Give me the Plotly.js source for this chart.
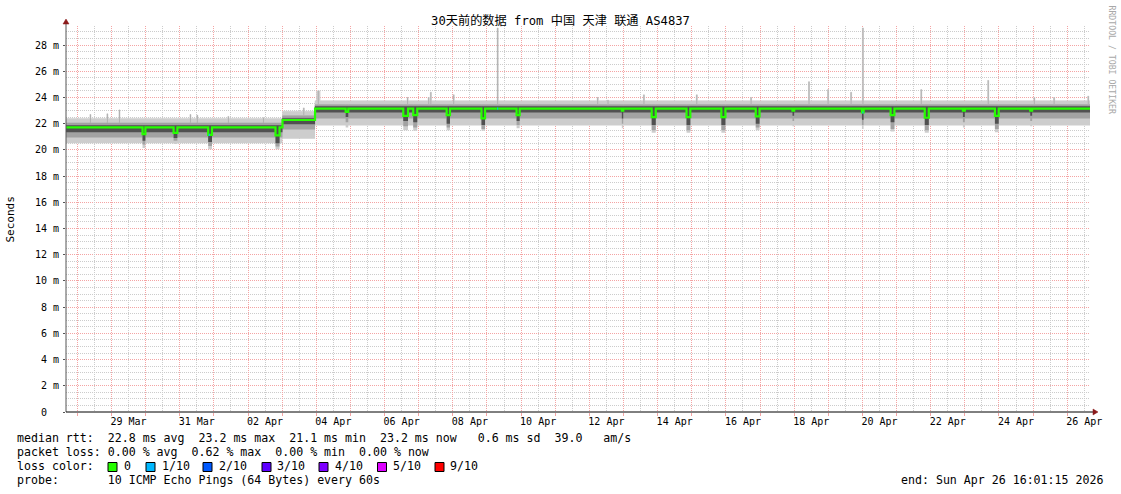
<!DOCTYPE html>
<html><head><meta charset="utf-8">
<script src="https://cdn.plot.ly/plotly-3.0.1.min.js"></script>
<style>html,body{margin:0;padding:0;background:#fff}</style>
</head><body><div id="chart" style="width:1121px;height:494px"></div>
<script>
// ---------- DATA ----------
const titleText = '30天前的数据 from 中国 天津 联通 AS4837';
const startTime = '03-27 16:01:15';
const endTime = '04-26 16:01:15';

// Level periods: RTT in ms (median + smoke percentiles)
const periodStart  = ['03-27 16:01:15', '04-03 00:15', '04-03 23:08'];
const periodMedian = [21.72, 22.28, 23.15];
const periodLo1    = [21.35, 21.95, 22.85];
const periodLo2    = [20.95, 21.55, 22.40];
const periodLo3    = [20.50, 20.85, 21.85];
const periodHi1    = [21.85, 22.40, 23.30];
const periodHi2    = [22.05, 22.60, 23.45];
const periodHi3    = [22.40, 22.95, 23.75];

// Evening dips
const dipStart  = ['03-29 21:50','03-30 19:40','03-31 20:00','04-02 19:20','04-04 20:40','04-06 13:10','04-06 20:10','04-07 19:40','04-08 20:10','04-09 20:50','04-12 22:50','04-13 19:50','04-14 20:20','04-15 20:50','04-16 21:00','04-17 22:50','04-19 23:40','04-20 19:50','04-21 19:50','04-22 22:40','04-23 21:10','04-24 22:00'];
const dipEnd    = ['03-29 23:50','03-30 22:20','03-31 22:40','04-02 22:10','04-04 22:30','04-06 16:30','04-06 23:00','04-07 22:00','04-08 22:40','04-09 23:00','04-12 23:50','04-13 22:40','04-14 23:00','04-15 23:40','04-16 23:40','04-18 00:00','04-20 00:50','04-20 22:30','04-21 22:40','04-23 00:00','04-23 23:50','04-24 23:20'];
const dipMedian = [21.20,21.30,21.15,21.10,22.90,22.60,22.65,22.65,22.40,22.65,23.00,22.50,22.50,22.50,22.55,23.00,22.85,22.65,22.45,23.00,22.60,23.00];
const dipLo1    = [20.70,20.90,20.60,20.50,22.50,22.20,22.10,22.00,21.90,22.20,22.40,21.90,21.90,21.90,22.00,22.60,22.30,22.10,21.90,22.50,22.00,22.60];
const dipLo2    = [20.40,20.70,20.30,20.25,22.10,21.80,21.70,21.70,21.60,21.90,22.00,21.50,21.50,21.50,21.70,22.20,21.90,21.60,21.50,22.10,21.60,22.20];
const dipLo3    = [20.15,20.45,20.05,20.05,21.70,21.50,21.45,21.50,21.45,21.65,21.65,21.30,21.30,21.30,21.50,21.80,21.60,21.40,21.30,21.70,21.35,21.80];

// Max-ping spikes
const spikeTime  = ['03-28 08:50','03-28 20:45','03-29 05:15','03-31 07:10','03-31 12:00','04-01 09:50','04-02 10:30','04-03 14:50','04-04 00:10','04-06 15:50','04-07 06:40','04-07 08:10','04-08 00:15','04-09 07:10','04-12 05:30','04-12 12:45','04-13 14:00','04-15 03:10','04-16 17:20','04-18 10:05','04-18 23:30','04-19 15:40','04-20 00:00','04-21 17:00','04-23 16:05','04-25 00:30','04-25 14:25','04-26 14:25'];
const spikeMax   = [22.70,22.75,23.05,22.70,22.65,22.55,22.45,23.20,24.50,24.00,24.00,24.40,24.20,29.30,24.00,23.80,24.20,24.20,24.00,25.20,24.60,24.40,29.30,24.60,25.30,24.00,24.00,24.10];
const spikeHours = [0.75,0.75,0.75,0.75,0.75,0.75,0.75,0.75,2.5,0.75,0.75,0.75,0.75,0.75,0.75,0.75,0.75,0.75,0.75,0.75,0.75,0.75,0.75,0.75,0.75,0.75,0.75,0.75];

// Packet loss marks on the median line
const lossStart = ['03-31 20:20','04-09 07:10','04-20 00:00'];
const lossEnd   = ['03-31 21:10','04-09 07:55','04-20 00:45'];
const lossLevel = [1, 1, 1];

// Legend
const lossLabels = ['0','1/10','2/10','3/10','4/10','5/10','9/10'];
const lossColors = ['#26ff00','#00b8ff','#0059ff','#5e00ff','#7e00ff','#dd00ff','#ff0000'];
const statLines = [
  'median rtt:  22.8 ms avg  23.2 ms max  21.1 ms min  23.2 ms now   0.6 ms sd  39.0   am/s',
  'packet loss: 0.00 % avg  0.62 % max  0.00 % min  0.00 % now',
  'loss color:',
  'probe:       10 ICMP Echo Pings (64 Bytes) every 60s'
];
const endText = 'end: Sun Apr 26 16:01:15 2026';
const yTitle = 'Seconds';
const watermark = 'RRDTOOL / TOBI OETIKER';

// Axis ticks
const yTickValues = [0,2,4,6,8,10,12,14,16,18,20,22,24,26,28];
const yTickLabels = ['0  ','2 m','4 m','6 m','8 m','10 m','12 m','14 m','16 m','18 m','20 m','22 m','24 m','26 m','28 m'];
const xLabelDays  = ['03-29','03-31','04-02','04-04','04-06','04-08','04-10','04-12','04-14','04-16','04-18','04-20','04-22','04-24','04-26'];
const xLabelText  = ['29 Mar','31 Mar','02 Apr','04 Apr','06 Apr','08 Apr','10 Apr','12 Apr','14 Apr','16 Apr','18 Apr','20 Apr','22 Apr','24 Apr','26 Apr'];

// ---------- BUILD ----------
const ms = s => { const [d,t] = s.split(' '); const p = t.split(':');
  return Date.UTC(2026, +d.slice(0,2)-1, +d.slice(3,5), +p[0], +p[1], +(p[2]||0)); };
const iso = v => new Date(v).toISOString().replace('T',' ').slice(0,19);
const t0 = ms(startTime), t1 = ms(endTime);

const bset = new Set([t0, t1]);
periodStart.forEach(s => bset.add(ms(s)));
dipStart.forEach((s,i) => { bset.add(ms(s)); bset.add(ms(dipEnd[i])); });
spikeTime.forEach((s,i) => { bset.add(ms(s)); bset.add(ms(s) + spikeHours[i]*3600e3); });
const B = [...bset].filter(v => v >= t0 && v <= t1).sort((a,b) => a-b);

function valuesAt(t, noSpike) {
  let p = 0;
  periodStart.forEach((s,i) => { if (ms(s) <= t) p = i; });
  const v = {med: periodMedian[p], lo1: periodLo1[p], lo2: periodLo2[p], lo3: periodLo3[p],
             hi1: periodHi1[p], hi2: periodHi2[p], hi3: periodHi3[p]};
  dipStart.forEach((s,i) => {
    if (ms(s) <= t && t < ms(dipEnd[i])) {
      v.med = dipMedian[i]; v.lo1 = dipLo1[i]; v.lo2 = dipLo2[i]; v.lo3 = dipLo3[i];
    }
  });
  if (!noSpike) spikeTime.forEach((s,i) => {
    const a = ms(s), b = a + spikeHours[i]*3600e3;
    if (a <= t && t < b) v.hi3 = Math.max(v.hi3, spikeMax[i]);
  });
  return v;
}

const X = [], S = {med:[],lo1:[],lo2:[],lo3:[],hi1:[],hi2:[],hi3:[]};
B.forEach((b,k) => {
  const v = valuesAt(k === B.length-1 ? b-1 : b);
  X.push(iso(b));
  Object.keys(S).forEach(key => S[key].push(v[key]));
});

const traces = [];
const band = (lo, hi, color) => {
  traces.push({x: X, y: S[lo], type:'scatter', mode:'lines', line:{shape:'hv', width:0, color:color}, hoverinfo:'skip'});
  traces.push({x: X, y: S[hi], type:'scatter', mode:'lines', fill:'tonexty', fillcolor:color,
               line:{shape:'hv', width:0.6, color:color}, hoverinfo:'skip'});
};
band('lo3','hi3','#cdcdcd');
band('lo2','hi2','#a2a2a2');
band('lo1','hi1','#505050');

// thin max-ping spike lines
const sx = [], sy = [];
spikeTime.forEach((s,i) => {
  const mid = ms(s) + spikeHours[i]*1800e3;
  const base = valuesAt(mid, true);
  sx.push(iso(mid), iso(mid), null); sy.push(base.hi2, spikeMax[i], null);
});
traces.push({x: sx, y: sy, type:'scatter', mode:'lines', line:{width:1, color:'#b0b0b0'}, hoverinfo:'skip'});

traces.push({x: X, y: S.med, type:'scatter', mode:'lines', line:{shape:'hv', width:2.2, color: lossColors[0]}, hoverinfo:'skip'});
const lx = [], ly = [];
lossStart.forEach((s,i) => { const v = valuesAt(ms(s)); lx.push(iso(ms(s)), iso(ms(lossEnd[i])), null); ly.push(v.med, v.med, null); });
traces.push({x: lx, y: ly, type:'scatter', mode:'lines', line:{shape:'hv', width:2.2, color: lossColors[lossLevel[0]]}, hoverinfo:'skip'});

// ---------- LAYOUT ----------
const L = 66, R = 1090, T = 26, BOT = 412;
const px = x => (x - L) / (R - L);
const py = y => (BOT - y) / (BOT - T);
const nb = s => s.replace(/ /g, '\u00a0');
const MONO = 'DejaVu Sans Mono, "Noto Sans CJK SC", monospace';
const PINK = '#f4a4a4', GRAY = '#cccccc';

const annotations = [];
const addText = (text, x, y, opts) => annotations.push(Object.assign({
  text: nb(text), xref:'paper', yref:'paper', x: px(x), y: py(y), xanchor:'left', yanchor:'middle',
  showarrow:false, borderpad:0, font:{family:MONO, size:11.6, color:'#000'}}, opts||{}));

const lineY = [438, 452, 466, 480];
statLines.forEach((s,i) => addText(s, 16, lineY[i]));
const sqX = [108, 146, 203, 262, 319, 377.5, 435];
const lblX = [123, 161, 218, 276, 334, 392, 449];
const shapes = [];
lossLabels.forEach((lab,i) => {
  addText(lab, lblX[i], lineY[2]);
  shapes.push({type:'rect', xref:'paper', yref:'paper', x0: px(sqX[i]), x1: px(sqX[i]+9),
    y0: py(lineY[2]+5.5), y1: py(lineY[2]-3.5), fillcolor: lossColors[i], line:{color:'#000', width:1}});
});
addText(endText, 1104, lineY[3], {xanchor:'right'});
addText(yTitle, 10, 219.5, {xanchor:'center', textangle:-90, font:{family:MONO, size:11, color:'#000'}});
addText(watermark, 1111, 59.5, {xanchor:'center', textangle:90, font:{family:MONO, size:8.2, color:'#a8a8a8'}});

// axis extensions and arrows
shapes.push({type:'line', xref:'paper', yref:'paper', x0:px(66), x1:px(66), y0:py(412), y1:py(22), line:{color:'#555', width:1}});
shapes.push({type:'line', xref:'paper', yref:'paper', x0:px(66), x1:px(1094), y0:py(412), y1:py(412), line:{color:'#000', width:1}});
const tri = pts => 'M ' + pts.map(p => px(p[0]) + ',' + py(p[1])).join(' L ') + ' Z';
shapes.push({type:'path', xref:'paper', yref:'paper', path: tri([[63,24],[69,24],[66,19]]), fillcolor:'#8b1a1a', line:{color:'#8b1a1a', width:0.5}});
shapes.push({type:'path', xref:'paper', yref:'paper', path: tri([[1093,409],[1093,415],[1098,412]]), fillcolor:'#8b1a1a', line:{color:'#8b1a1a', width:0.5}});

const xr = [iso(t0), iso(t1)];
const layout = {
  width:1121, height:494, showlegend:false,
  margin:{l:L, r:1121-R, t:T, b:494-BOT, pad:0},
  paper_bgcolor:'#ffffff', plot_bgcolor:'#ffffff',
  font:{family:MONO, size:10, color:'#000'},
  title:{text:titleText, xref:'container', yref:'container', x:0.5, y:1-21/494, xanchor:'center', yanchor:'middle',
         font:{family:MONO, size:12.2, color:'#000'}},
  // midnight grid (pink) with small ticks
  xaxis:{type:'date', range:xr, showgrid:true, gridcolor:PINK, griddash:'1px,1px', gridwidth:1,
         tickmode:'linear', tick0:'2026-03-28 00:00:00', dtick:86400000, showticklabels:false,
         ticks:'outside', ticklen:3, tickcolor:PINK, showline:false, zeroline:false, fixedrange:true},
  // day labels at noon
  xaxis2:{type:'date', overlaying:'x', anchor:'y', side:'bottom', range:xr, showgrid:false, zeroline:false,
          tickmode:'array', tickvals: xLabelDays.map(d => '2026-' + d + ' 12:00:00'), ticktext: xLabelText,
          ticks:'', showline:false, ticklabelstandoff:2, tickfont:{family:MONO, size:10, color:'#000'}, fixedrange:true},
  // noon grid (gray)
  xaxis3:{type:'date', overlaying:'x', anchor:'y', side:'bottom', range:xr, showgrid:true, gridcolor:GRAY, griddash:'1px,1px', gridwidth:1,
          tickmode:'linear', tick0:'2026-03-28 12:00:00', dtick:86400000, showticklabels:false, ticks:'', showline:false, zeroline:false, fixedrange:true},
  yaxis:{range:[0, 29.45], tickmode:'array', tickvals:yTickValues, ticktext:yTickLabels.map(nb),
         showgrid:true, gridcolor:PINK, griddash:'1px,1px', gridwidth:1, zeroline:false, showline:false,
         ticks:'outside', ticklen:2, tickcolor:'#555', ticklabelstandoff:2, tickfont:{family:MONO, size:10, color:'#000'}, fixedrange:true,
         minor:{tickmode:'linear', tick0:0, dtick:0.5, showgrid:true, gridcolor:GRAY, griddash:'1px,1px', gridwidth:1}},
  annotations: annotations,
  shapes: shapes
};
// invisible traces to bind the overlay axes
traces.push({x:[xr[0]], y:[null], xaxis:'x2', yaxis:'y', type:'scatter', mode:'markers', hoverinfo:'skip'});
traces.push({x:[xr[0]], y:[null], xaxis:'x3', yaxis:'y', type:'scatter', mode:'markers', hoverinfo:'skip'});

Plotly.newPlot('chart', traces, layout, {displayModeBar:false, staticPlot:true});
</script>
</body></html>
